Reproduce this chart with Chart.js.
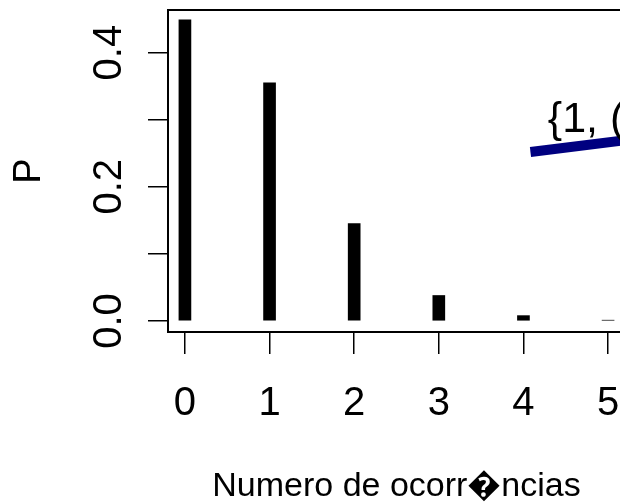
<!DOCTYPE html>
<html>
<head>
<meta charset="utf-8">
<script src="https://cdn.jsdelivr.net/npm/chart.js@4/dist/chart.umd.min.js"></script>
<style>
html,body{margin:0;padding:0;overflow:hidden;background:#fff;width:620px;height:504px;}
#wrap{width:700px;height:504px;}
</style>
</head>
<body>
<div id="wrap"><canvas id="c" width="700" height="504"></canvas></div>
<script>
// ---- data ----
const categories = [0, 1, 2, 3, 4, 5];
const probabilities = [0.449, 0.355, 0.145, 0.038, 0.008, 0.0012];
const xTickValues = [0, 1, 2, 3, 4, 5];
const xTickLabels = ['0', '1', '2', '3', '4', '5'];
const yTickValues = [0, 0.1, 0.2, 0.3, 0.4];
const yTickLabels = ['0.0', '', '0.2', '', '0.4'];
const annotationLineX = [4.083, 5.6];
const annotationLineY = [0.2519, 0.2755];
const annotationText = '{1, (';
const annotationTextX = 4.288;
const annotationTextY = 0.2824;
const xTitle = 'Numero de ocorr\uFFFDncias';
const yTitle = 'P';

const FONT = "'Liberation Sans', Arial, Helvetica, sans-serif";

const overlay = {
  id: 'overlay',
  afterDraw(chart) {
    const ctx = chart.ctx;
    const a = chart.chartArea;
    const xs = chart.scales.x, ys = chart.scales.y;
    ctx.save();
    // box
    ctx.strokeStyle = '#000';
    ctx.lineWidth = 2;
    ctx.strokeRect(a.left, a.top, a.right - a.left, a.bottom - a.top);
    // x tick labels
    ctx.fillStyle = '#000';
    ctx.font = '40px ' + FONT;
    ctx.textAlign = 'center';
    ctx.textBaseline = 'middle';
    xTickValues.forEach((v, i) => {
      ctx.fillText(xTickLabels[i], xs.getPixelForValue(v), 404);
    });
    // y tick labels (rotated)
    yTickValues.forEach((v, i) => {
      if (!yTickLabels[i]) return;
      ctx.save();
      ctx.translate(110, ys.getPixelForValue(v));
      ctx.rotate(-Math.PI / 2);
      ctx.fillText(yTickLabels[i], 0, 0);
      ctx.restore();
    });
    // annotation text
    ctx.font = '43px ' + FONT;
    ctx.textAlign = 'left';
    ctx.textBaseline = 'alphabetic';
    ctx.fillText(annotationText, xs.getPixelForValue(annotationTextX), ys.getPixelForValue(annotationTextY));
    ctx.restore();
  }
};

new Chart(document.getElementById('c'), {
  type: 'bar',
  data: {
    datasets: [
      {
        type: 'bar',
        data: categories.map((x, i) => ({ x: x, y: probabilities[i] })),
        backgroundColor: '#000',
        borderWidth: 0,
        barThickness: 12,
        order: 2
      },
      {
        type: 'line',
        data: annotationLineX.map((x, i) => ({ x: x, y: annotationLineY[i] })),
        borderColor: '#000080',
        borderWidth: 10,
        pointRadius: 0,
        fill: false,
        order: 1
      }
    ]
  },
  plugins: [overlay],
  options: {
    responsive: false,
    animation: false,
    events: [],
    layout: { padding: { top: 10, right: 75, left: 0, bottom: 0 } },
    plugins: { legend: { display: false }, tooltip: { enabled: false } },
    scales: {
      x: {
        type: 'linear',
        offset: false,
        min: -0.2,
        max: 5.2,
        afterBuildTicks: s => { s.ticks = xTickValues.map(v => ({ value: v })); },
        afterFit: s => { s.height = 172; },
        ticks: { display: false },
        border: { display: false },
        grid: { offset: false, drawOnChartArea: false, drawTicks: true, tickLength: 22, color: '#000', lineWidth: 1.5 },
        title: { display: true, text: xTitle, color: '#000', font: { family: FONT, size: 34, lineHeight: 1 }, padding: { top: 0, bottom: 0 } }
      },
      y: {
        type: 'linear',
        min: -0.0164,
        max: 0.4635,
        afterBuildTicks: s => { s.ticks = yTickValues.map(v => ({ value: v })); },
        afterFit: s => { s.width = 168; },
        ticks: { display: false },
        border: { display: false },
        grid: { drawOnChartArea: false, drawTicks: true, tickLength: 20, color: '#000', lineWidth: 1.5 },
        title: { display: true, text: yTitle, color: '#000', font: { family: FONT, size: 38, lineHeight: 1 }, padding: { top: 11, bottom: 0 } }
      }
    }
  }
});
</script>
</body>
</html>
